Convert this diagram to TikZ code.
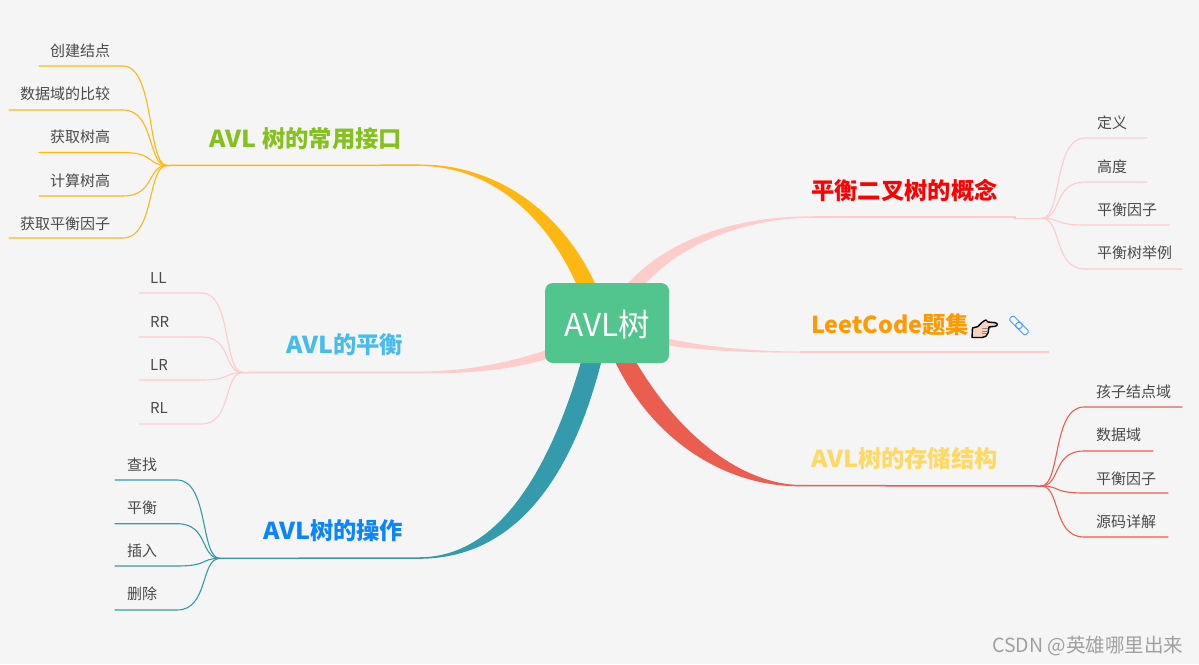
\documentclass[tikz,border=0pt]{standalone}
\usepackage{fontspec}
\setmainfont{Noto Sans CJK SC}
\newfontfamily\widelat[FakeStretch=1.07]{Noto Sans CJK SC}
\definecolor{bgc}{HTML}{F5F5F5}
\definecolor{rootc}{HTML}{52C48D}
\definecolor{amberc}{HTML}{FFB711}
\definecolor{pinkc}{HTML}{FFCCCC}
\definecolor{redc}{HTML}{EB5E4F}
\definecolor{tealc}{HTML}{339BAB}
\definecolor{leafc}{HTML}{4A4A4A}
\definecolor{linkc}{HTML}{4A9BFF}
\definecolor{skinc}{HTML}{F8D3BC}
\tikzset{
  x=1pt,y=-1pt,
  leaf/.style={anchor=west,inner sep=0pt,text=leafc,font=\fontsize{15}{16}\selectfont},
  topic/.style={anchor=west,inner sep=0pt,font=\fontsize{23.3}{26}\selectfont\bfseries},
  wire/.style={line width=1.1pt,line cap=round},
  stem/.style={line width=1.5pt},
}
\begin{document}
\begin{tikzpicture}
\path[fill=bgc] (0,0) rectangle (1199,664);
\useasboundingbox (0,0) rectangle (1199,664);

% tapered main branches
\fill[amberc] (420,164.6) .. controls (498,164) and (568,215) .. (600,295) -- (581,295) .. controls (553,225) and (498,167) .. (420,165.9) -- cycle;
\fill[pinkc] (812,216.4) .. controls (735,216) and (660,240) .. (618,295) -- (636,295) .. controls (671,248) and (740,218) .. (812,217.8) -- cycle;
\fill[pinkc] (665,338) .. controls (710,348) and (760,351.5) .. (800,351.5) -- (800,352.6) .. controls (760,353) and (705,351) .. (665,345) -- cycle;
\fill[pinkc] (550,349) .. controls (505,364) and (465,371) .. (420,371.6) -- (420,373) .. controls (470,374) and (510,370) .. (550,358) -- cycle;
\fill[redc] (612,355) .. controls (650,440) and (725,486.5) .. (800,486.3) -- (800,485) .. controls (745,484) and (680,440) .. (632,355) -- cycle;
\fill[tealc] (583,355) .. controls (555,455) and (505,557) .. (420,557.2) -- (420,558.8) .. controls (520,558) and (575,470) .. (603,355) -- cycle;

% trunk lines
\coordinate (jA) at (167,165.5);
\coordinate (jB) at (243,372.5);
\coordinate (jC) at (220,558.4);
\coordinate (jD) at (1042,218.3);
\coordinate (jF) at (1041,486);
\coordinate (eA) at (420,165.2);
\coordinate (eB) at (420,372.3);
\coordinate (eC) at (420,558);
\coordinate (eD) at (812,217);
\coordinate (eE) at (800,352);
\coordinate (eF) at (800,485.6);
\coordinate (tE) at (1049,352);
\draw[stem,amberc] (jA) -- (eA);
\draw[stem,pinkc] (jB) -- (eB);
\draw[stem,tealc] (jC) -- (eC);
\draw[stem,pinkc] (jD) -- (1015,218.3) -- (1015,217) -- (eD);
\draw[stem,pinkc] (eE) -- (tE);
\draw[stem,redc] (eF) -- (jF);

% orange leaves
\foreach \n/\lx/\ly/\tx/\ty/\t in {
 a1/39/66/50/50.5/创建结点,a2/9/110/20/93.5/数据域的比较,a3/39/152.5/50/137/获取树高,a4/39/196/50/181/计算树高,a5/9/238/20/224/获取平衡因子}{
  \node[leaf] (\n) at (\tx,\ty) {\t};
  \coordinate (\n e) at (\lx,\ly);
  \draw[wire,amberc] (jA) .. controls (147,165.5) and (155,\ly) .. (123,\ly) -- (\n e);
}
% left pink leaves
\foreach \n/\ly/\ty/\t in {b1/293/278/LL,b2/337/322/RR,b3/380/365/LR,b4/424/408/RL}{
  \node[leaf] (\n) at (150,\ty) {\t};
  \coordinate (\n e) at (139,\ly);
  \draw[wire,pinkc] (jB) .. controls (223,372.5) and (232,\ly) .. (202,\ly) -- (\n e);
}
% teal leaves
\foreach \n/\ly/\ty/\t in {c1/480/465/查找,c2/523.7/508/平衡,c3/566/551/插入,c4/610/594/删除}{
  \node[leaf] (\n) at (127,\ty) {\t};
  \coordinate (\n e) at (115,\ly);
  \draw[wire,tealc] (jC) .. controls (200,558.4) and (209,\ly) .. (177,\ly) -- (\n e);
}
% right pink leaves
\foreach \n/\lx/\ly/\ty/\t in {d1/1147/138/123/定义,d2/1147/182/167/高度,d3/1169/225/210/平衡因子,d4/1182/269/253/平衡树举例}{
  \node[leaf] (\n) at (1097,\ty) {\t};
  \coordinate (\n e) at (\lx,\ly);
  \draw[wire,pinkc] (jD) .. controls (1062,218.3) and (1053,\ly) .. (1085,\ly) -- (\n e);
}
% red leaves
\foreach \n/\lx/\ly/\ty/\t in {f1/1182/407/392/孩子结点域,f2/1153/451/435/数据域,f3/1168/493/479/平衡因子,f4/1168/537/522/源码详解}{
  \node[leaf] (\n) at (1096,\ty) {\t};
  \coordinate (\n e) at (\lx,\ly);
  \draw[wire,redc] (jF) .. controls (1061,486) and (1052,\ly) .. (1084,\ly) -- (\n e);
}

% root
\node[fill=rootc,rounded corners=8pt,minimum width=124pt,minimum height=80pt,inner sep=0pt] (root) at (607,323) {};
\node[inner sep=0pt,text=white,font=\fontsize{31.5}{34}\selectfont] (rootlabel) at (607.5,325) {AVL树};

% topics
\node[topic,text={rgb,255:red,133;green,193;blue,29}] (t1) at (209,139) {{\widelat\bfseries AVL} \hspace{1pt}树的常用接口};
\node[topic,text=red] (t2) at (811,191) {平衡二叉树的概念};
\node[topic,text={rgb,255:red,255;green,153;blue,0}] (t3) at (811,325) {LeetCode题集};
\node[topic,text={rgb,255:red,255;green,217;blue,102}] (t4) at (811,459) {{\widelat\bfseries AVL}树的存储结构};
\node[topic,text={rgb,255:red,72;green,187;blue,238}] (t5) at (286,345) {{\widelat\bfseries AVL}的平衡};
\node[topic,text={rgb,255:red,10;green,132;blue,255}] (t6) at (263,531) {{\widelat\bfseries AVL}树的操作};

% watermark
\node[anchor=west,inner sep=0pt,text={rgb,255:red,160;green,160;blue,160},font=\fontsize{19.5}{22}\selectfont] (wm) at (992,646) {CSDN @英雄哪里出来};

% hand
\draw[fill=skinc,line width=1.4pt,line join=round]
 (972,337.5) -- (972.5,328) -- (978,326.5) .. controls (981,323) and (984,320.5) .. (986,320) -- (988,322) -- (995,322.7) .. controls (998,323) and (998,326) .. (995,326.3) -- (989,327) -- (988,333) .. controls (987,336) and (985,337.5) .. (982,337.5) -- cycle;
\draw[line width=.5pt,black!45] (982,328.5) -- (988,328.5) (982,331) -- (988,331) (982,333.5) -- (987,333.5);
% link icon
\begin{scope}[shift={(1019,325.5)},rotate=-45,line width=1pt]
 \draw[rounded corners=1.5pt,linkc] (-11.5,-3) rectangle (3,3);
 \draw[rounded corners=1.5pt,linkc] (-3,-3) rectangle (11.5,3);
\end{scope}
\end{tikzpicture}
\end{document}
